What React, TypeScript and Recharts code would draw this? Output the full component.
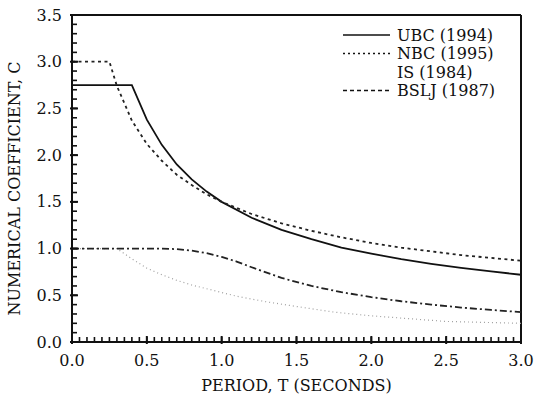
import React from 'react';
import { LineChart, Line, XAxis, YAxis, ReferenceLine, Legend } from 'recharts';

// values
const ubcPeriods = [0, 0.4, 0.5, 0.6, 0.7, 0.8, 0.9, 1.0, 1.2, 1.4, 1.6, 1.8, 2.0, 2.2, 2.4, 2.6, 2.8, 3.0];
const ubcValues = [2.75, 2.75, 2.38, 2.11, 1.9, 1.74, 1.61, 1.5, 1.33, 1.2, 1.1, 1.01, 0.945, 0.887, 0.837, 0.793, 0.755, 0.72];

const nbcPeriods = [0, 0.25, 0.3, 0.4, 0.5, 0.6, 0.7, 0.8, 0.9, 1.0, 1.2, 1.4, 1.6, 1.8, 2.0, 2.2, 2.4, 2.6, 2.8, 3.0];
const nbcValues = [3.0, 3.0, 2.74, 2.37, 2.12, 1.94, 1.79, 1.68, 1.58, 1.5, 1.37, 1.27, 1.19, 1.12, 1.06, 1.01, 0.97, 0.93, 0.9, 0.87];

const isPeriods = [0, 0.3, 0.4, 0.5, 0.6, 0.7, 0.8, 0.9, 1.0, 1.1, 1.2, 1.3, 1.5, 1.75, 2.0, 2.25, 2.5, 2.75, 3.0];
const isValues = [1.0, 1.0, 0.89, 0.79, 0.72, 0.66, 0.61, 0.57, 0.53, 0.49, 0.46, 0.43, 0.38, 0.32, 0.28, 0.25, 0.22, 0.21, 0.2];

const bsljPeriods = [0, 0.6, 0.7, 0.8, 0.9, 1.0, 1.1, 1.2, 1.4, 1.6, 1.8, 2.0, 2.2, 2.4, 2.6, 2.8, 3.0];
const bsljValues = [1.0, 1.0, 0.994, 0.978, 0.95, 0.911, 0.861, 0.8, 0.686, 0.6, 0.533, 0.48, 0.436, 0.4, 0.369, 0.343, 0.32];

const xMajorTicks = [0, 0.5, 1.0, 1.5, 2.0, 2.5, 3.0];
const yMajorTicks = [0, 0.5, 1.0, 1.5, 2.0, 2.5, 3.0, 3.5];
// minor ticks every 0.05 s and every 0.1 on C
const xTicks = Array.from({ length: 61 }, (_, i) => i / 20);
const yTicks = Array.from({ length: 36 }, (_, i) => i / 10);

const toRows = (periods: number[], values: number[]) =>
  periods.map((t, i) => ({ t, c: values[i] }));

const series = [
  { name: 'UBC (1994)', data: toRows(ubcPeriods, ubcValues), color: '#111', width: 1.8, dash: undefined, legendDash: undefined },
  { name: 'NBC (1995)', data: toRows(nbcPeriods, nbcValues), color: '#222', width: 1.8, dash: '3 3.5', legendDash: '2 3' },
  { name: 'IS (1984)', data: toRows(isPeriods, isValues), color: '#a0a0a0', width: 1.2, dash: '1 3', legendDash: 'none' },
  { name: 'BSLJ (1987)', data: toRows(bsljPeriods, bsljValues), color: '#222', width: 1.8, dash: '7 3 2 3', legendDash: '4 3' },
];

const FONT = '"DejaVu Serif", serif';
const MINOR = 5;
const MAJOR = 8;
const TICK_COLOR = '#111';

const isMajor = (v: number, list: number[]) => list.some((m) => Math.abs(m - v) < 1e-6);

// tick coords arrive already shifted inward by the (negative) tick size
function XTick(props: any) {
  const { x, y, payload } = props;
  if (!isMajor(payload.value, xMajorTicks)) return <g />;
  const base = y + MINOR;
  return (
    <g>
      <path d={`M${x},${base}V${base - MAJOR}`} stroke={TICK_COLOR} strokeWidth={2} />
      <text x={x} y={base + 16} dy="0.35em" textAnchor="middle" fontFamily={FONT} fontSize={16} fill="#111">
        {payload.value.toFixed(1)}
      </text>
    </g>
  );
}

function YTick(props: any) {
  const { x, y, payload } = props;
  if (!isMajor(payload.value, yMajorTicks)) return <g />;
  const base = x - MINOR;
  return (
    <g>
      <path d={`M${base},${y}H${base + MAJOR}`} stroke={TICK_COLOR} strokeWidth={2} />
      <text x={base - 8} y={y} dy="0.35em" textAnchor="end" fontFamily={FONT} fontSize={16} fill="#111">
        {payload.value.toFixed(1)}
      </text>
    </g>
  );
}

function LegendBox() {
  return (
    <svg width={190} height={80}>
      {series.map((s, i) => (
        <g key={s.name} transform={`translate(0, ${i * 18.5 + 9})`}>
          {s.legendDash !== 'none' && (
            <line x1={3} x2={50} y1={0} y2={0} stroke="#111" strokeWidth={1.4} strokeDasharray={s.legendDash} />
          )}
          <text x={57} y={0} dy="0.35em" fontFamily={FONT} fontSize={16} fill="#111">
            {s.name}
          </text>
        </g>
      ))}
    </svg>
  );
}

export default function App() {
  return (
    <div style={{ position: 'absolute', left: 0, top: 0, background: '#fff' }}>
      <LineChart width={535} height={401} margin={{ top: 15, right: 14, left: 0, bottom: 0 }}>
        <XAxis
          dataKey="t"
          type="number"
          domain={[0, 3]}
          ticks={xTicks}
          interval={0}
          tickSize={-MINOR}
          tickLine={{ stroke: TICK_COLOR, strokeWidth: 1.6 }}
          tick={<XTick />}
          height={59}
          axisLine={{ stroke: '#111', strokeWidth: 2 }}
          label={(p: any) => {
            const vb = p.viewBox;
            return (
              <text x={vb.x + vb.width / 2} y={vb.y + 43} dy="0.35em" textAnchor="middle" fontFamily={FONT} fontSize={16} fill="#111">
                PERIOD, T (SECONDS)
              </text>
            );
          }}
        />
        <YAxis
          type="number"
          domain={[0, 3.5]}
          ticks={yTicks}
          interval={0}
          tickSize={-MINOR}
          tickLine={{ stroke: TICK_COLOR, strokeWidth: 1.6 }}
          tick={<YTick />}
          width={72}
          axisLine={{ stroke: '#111', strokeWidth: 2 }}
          label={(p: any) => {
            const vb = p.viewBox;
            const cx = vb.x + 14;
            const cy = vb.y + vb.height / 2 + 10;
            return (
              <text x={cx} y={cy} dy="0.35em" textAnchor="middle" transform={`rotate(-90 ${cx} ${cy})`} fontFamily={FONT} fontSize={16} fill="#111">
                NUMERICAL COEFFICIENT, C
              </text>
            );
          }}
        />
        <ReferenceLine y={3.5} stroke="#111" strokeWidth={2} />
        <ReferenceLine x={3} stroke="#111" strokeWidth={2} />
        {series.map((s) => (
          <Line
            key={s.name}
            data={s.data}
            dataKey="c"
            name={s.name}
            type="linear"
            stroke={s.color}
            strokeWidth={s.width}
            strokeDasharray={s.dash}
            dot={false}
            activeDot={false}
            isAnimationActive={false}
          />
        ))}
        <Legend
          layout="vertical"
          align="center"
          verticalAlign="middle"
          wrapperStyle={{ left: 340, top: 26, width: 190, height: 80 }}
          content={() => <LegendBox />}
        />
      </LineChart>
    </div>
  );
}
